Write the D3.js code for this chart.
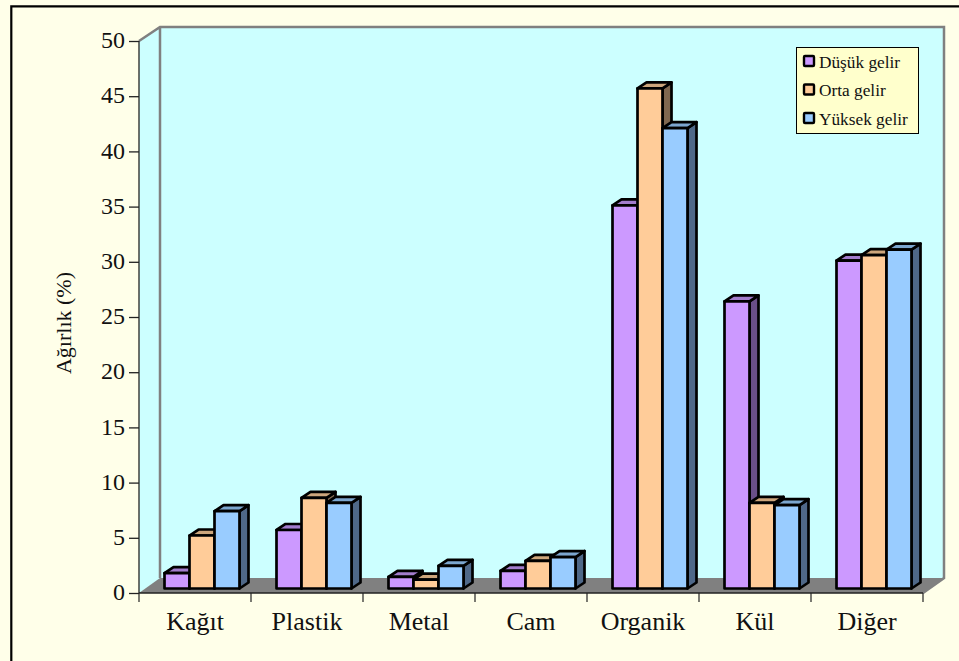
<!DOCTYPE html>
<html><head><meta charset="utf-8">
<script src="https://cdn.jsdelivr.net/npm/d3@7"></script>
<style>
html,body{margin:0;padding:0;background:#fff}
svg{display:block}
text{font-family:"Liberation Serif","Times New Roman",serif;fill:#111}
</style></head><body>
<svg id="c" width="959" height="661"></svg>
<script>
const categories = ["Kağıt","Plastik","Metal","Cam","Organik","Kül","Diğer"];
const seriesNames = ["Düşük gelir","Orta gelir","Yüksek gelir"];
const dusuk = [1.4,5.3,1.05,1.6,34.7,26.0,29.7];
const orta  = [4.8,8.2,0.8,2.5,45.3,7.75,30.2];
const yuksek= [7.0,7.75,2.05,2.85,41.7,7.55,30.7];
const seriesValues = [dusuk,orta,yuksek];
const yTicks = d3.range(0,51,5);
const fronts = ["#cc99ff","#ffcc99","#99ccff"];
const tops   = ["#a27ccc","#cda67c","#7ca6cf"];
const sides  = ["#6a4f88","#806850","#4f6888"];

const W=959,H=661;
const dx=21, dy=-14, floorDy=-15;   // depth offset of the 3D box
const x0=139, x1=923, y0=593, y50=41;
const barLift=4.5;               // bars stand slightly behind the front edge of the floor
const svg=d3.select("#c");
const y=d3.scaleLinear().domain([0,50]).range([y0,y50]);
const xBand=d3.scaleBand().domain(categories).range([x0,x1]);
const xSeries=d3.scaleBand().domain(d3.range(3)).range([0,75]);

// page and chart background
svg.append("rect").attr("width",W).attr("height",H).attr("fill","#ffffe9");
svg.append("path").attr("d",`M11.3,${H}V6.3H${W}`).attr("fill","none").attr("stroke","#000").attr("stroke-width",2.2);

// back wall, side wall and floor
svg.append("polygon").attr("points",[[x0,y(0)],[x0,y(50)],[x0+dx,y(50)+dy],[x0+dx,y(0)+dy]].join(" ")).attr("fill","#ccffff");
svg.append("rect").attr("x",x0+dx).attr("y",y(50)+dy).attr("width",x1-x0).attr("height",y(0)-y(50)).attr("fill","#ccffff");
svg.append("polygon").attr("points",[[x0,y(0)],[x0+dx,y(0)+floorDy],[x1+dx,y(0)+floorDy],[x1,y(0)]].join(" ")).attr("fill","#808080");
svg.append("path").attr("d",`M${x0},${y(50)}L${x0+dx},${y(50)+dy}H${x1+dx}V${y(0)+floorDy}L${x1},${y(0)}M${x0+dx},${y(50)+dy}V${y(0)+floorDy}`)
  .attr("fill","none").attr("stroke","#808080").attr("stroke-width",2.5);

// bars in depth order, left to right so later bars overlap earlier ones
const bd=9, bh=6;  // bar depth offsets
const inset=(xBand.bandwidth()-75)/2+7;
categories.forEach((c,i)=>{
  seriesValues.forEach((vals,s)=>{
    const v=vals[i];
    const xl=xBand(c)+inset+xSeries(s), xr=xl+xSeries.bandwidth();
    const yt=y(v)-barLift, yb=y(0)-barLift;
    const g=svg.append("g").attr("stroke","#000").attr("stroke-width",2.7).attr("stroke-linejoin","round");
    g.append("polygon").attr("points",[[xr,yt],[xr+bd,yt-bh],[xr+bd,yb-bh],[xr,yb]].join(" ")).attr("fill",sides[s]);
    g.append("polygon").attr("points",[[xl,yt],[xl+bd,yt-bh],[xr+bd,yt-bh],[xr,yt]].join(" ")).attr("fill",tops[s]);
    g.append("rect").attr("x",xl).attr("y",yt).attr("width",xr-xl).attr("height",yb-yt).attr("fill",fronts[s]);
  });
});

// axes
const yAxis=d3.axisLeft(y).tickValues(yTicks).tickSize(10).tickPadding(4);
const ya=svg.append("g").attr("transform",`translate(${x0},0)`).call(yAxis);
ya.selectAll("path,line").attr("stroke","#222").attr("stroke-width",1.3);
ya.select("path").attr("d",`M0,${y(50)}V${y(0)}`);
ya.selectAll("text").attr("font-size",24).attr("fill","#111").attr("y",-1);
ya.attr("font-family",null);

const xa=svg.append("g").attr("transform",`translate(0,${y(0)})`)
  .call(d3.axisBottom(xBand).tickSize(0).tickPadding(19));
xa.select("path").attr("d",`M${x0},0H${x1}`).attr("stroke","#222").attr("stroke-width",1.5);
xa.selectAll("text").attr("font-size",26).attr("fill","#111");
xa.attr("font-family",null);
xa.selectAll(".sep").data(d3.range(8)).join("line").attr("class","sep")
  .attr("x1",d=>x0+d*xBand.step()).attr("x2",d=>x0+d*xBand.step())
  .attr("y1",0).attr("y2",9).attr("stroke","#222").attr("stroke-width",1.2);

// y axis title
svg.append("text").attr("transform",`translate(71,${y(25)+6}) rotate(-90)`).attr("text-anchor","middle")
  .attr("font-size",22).text("Ağırlık (%)");

// legend
const lg=svg.append("g").attr("transform","translate(796,47)");
lg.append("rect").attr("x",0.5).attr("y",0.5).attr("width",122).attr("height",86).attr("fill","#ffffcc").attr("stroke","#000").attr("stroke-width",1);
seriesNames.forEach((n,i)=>{
  const cy=14+i*28.5;
  lg.append("rect").attr("x",8).attr("y",cy-5).attr("width",10).attr("height",10).attr("rx",1).attr("fill",fronts[i]).attr("stroke","#000").attr("stroke-width",2.4);
  lg.append("text").attr("x",23).attr("y",cy+6.5).attr("font-size",17.3).text(n);
});
</script></body></html>
